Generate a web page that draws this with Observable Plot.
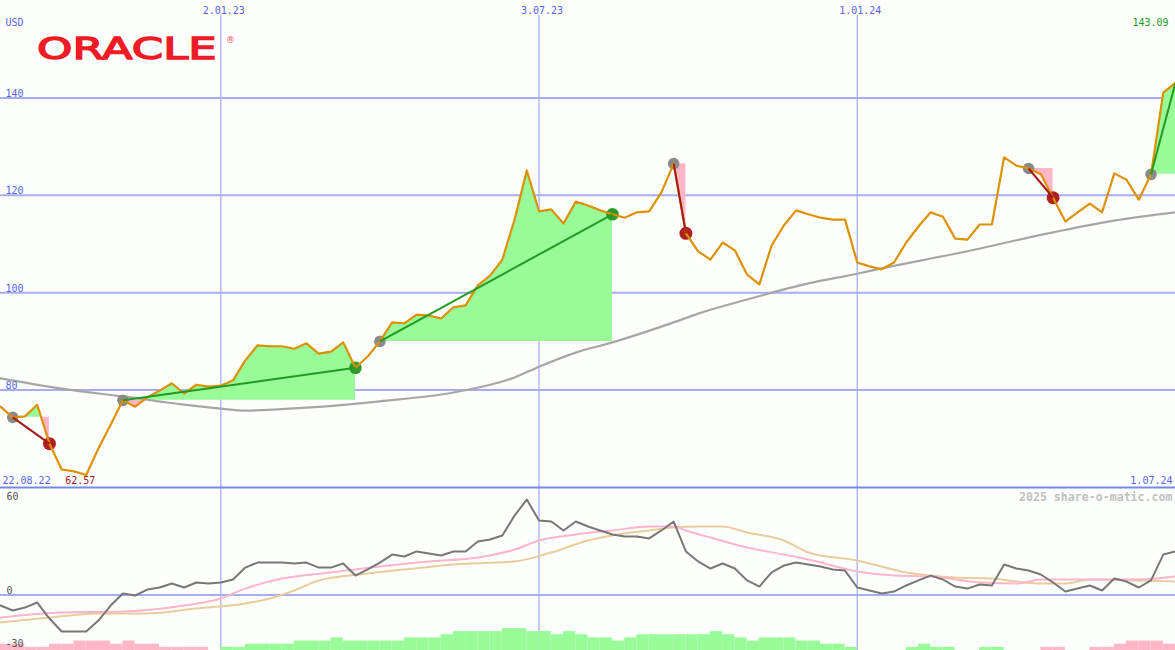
<!DOCTYPE html>
<html><head><meta charset="utf-8">
<script src="https://cdn.jsdelivr.net/npm/d3@7"></script>
<script src="https://cdn.jsdelivr.net/npm/@observablehq/plot@0.6"></script>
<style>
html,body{margin:0;padding:0;background:#fdfffd;}
#chart{position:relative;width:1175px;height:650px;overflow:hidden;background:#fdfffd;}
#chart svg{position:absolute;left:0;}
#logo{position:absolute;left:37px;top:33px;font-family:"DejaVu Sans";font-weight:normal;font-size:31px;line-height:31px;color:#ee1c25;-webkit-text-stroke:1.4px #ee1c25;transform:scaleX(1.45);transform-origin:0 0;white-space:nowrap;}
#reg{position:absolute;left:226px;top:36px;font-family:"DejaVu Sans";font-size:9px;line-height:9px;color:#ee5560;}
</style>
</head><body>
<div id="chart"><div id="logo">ORACLE</div><div id="reg">®</div></div>
<script>
// ---------- data ----------
const startDate = "2022-08-29";
const endDate = "2024-07-01";
const firstDateLabel = "22.08.22";
const currency = "USD";
const priceTicks = [80, 100, 120, 140];
const dateTicks = ["2023-01-02", "2023-07-03", "2024-01-01"];
const momentumTicks = [60, 0];
const momentumBottomTick = -30;

// weekly closes
const price = [
  76.6, 74.4, 74.6, 77.0, 69.0, 63.7, 63.3, 62.57, 68.0, 72.9,
  77.9, 76.6, 78.5, 79.9, 81.4, 79.3, 81.1, 80.7, 80.9, 82.0,
  86.1, 89.2, 89.0, 89.0, 88.5, 89.6, 87.5, 87.9, 89.8, 84.6,
  86.9, 90.0, 93.9, 93.7, 95.5, 95.3, 94.7, 97.0, 97.4, 101.5,
  103.5, 106.8, 115.0, 125.1, 116.7, 117.1, 114.2, 118.7, 117.9, 116.9,
  116.1, 115.4, 116.5, 116.7, 120.6, 126.5, 112.2, 108.5, 106.8, 110.3,
  108.7, 103.7, 101.7, 109.7, 113.8, 116.9, 116.1, 115.4, 115.0, 115.0,
  106.2, 105.4, 104.8, 106.2, 110.3, 113.6, 116.5, 115.6, 111.1, 110.9,
  114.0, 114.0, 127.8, 126.1, 125.5, 124.3, 119.5, 114.6, 116.5, 118.3,
  116.5, 124.5, 123.2, 119.1, 124.3, 141.1, 143.09
];

// long moving average (week index, value)
const maWeeks  = [0, 5, 10, 15, 18, 20, 25, 31, 37, 42, 44, 47, 50, 55, 57, 61, 66, 70, 72, 78, 86, 91, 96];
const maValues = [82.4, 80.3, 78.7, 77.0, 76.2, 75.8, 76.4, 77.7, 79.5, 82.6, 84.8, 87.7, 89.8, 93.9, 95.7, 98.6, 101.9, 103.9, 105.0, 108.0, 112.4, 114.8, 116.5];

// momentum indicator
const momentum = [
  -6.7, -9.9, -8.0, -4.8, -15.0, -23.3, -23.3, -23.3, -16.3, -6.7,
  1.0, -0.3, 3.5, 4.8, 7.3, 4.8, 8.0, 7.3, 8.0, 9.9,
  17.5, 20.7, 20.7, 20.7, 20.1, 20.7, 17.5, 17.5, 20.1, 12.4,
  16.3, 20.7, 25.8, 24.6, 27.8, 26.5, 25.2, 27.8, 27.8, 34.1,
  35.4, 38.0, 50.7, 60.9, 47.5, 46.9, 41.2, 46.9, 43.7, 41.2,
  38.6, 37.3, 37.3, 36.1, 41.2, 46.9, 27.8, 21.4, 16.9, 20.1,
  16.9, 9.3, 5.4, 14.4, 18.8, 20.7, 19.5, 18.2, 16.3, 15.6,
  4.8, 2.9, 1.0, 2.2, 6.1, 9.3, 12.4, 9.9, 5.4, 4.1,
  6.7, 6.1, 19.5, 16.9, 15.6, 13.1, 8.0, 2.2, 4.1, 6.1,
  2.9, 10.5, 8.6, 4.8, 9.3, 25.8, 27.8
];

// fast signal (pink)
const fastWeeks  = [0, 5, 10, 15, 18, 20, 23, 27, 31, 35, 39, 42, 44, 47, 50, 53, 55, 56, 58, 61, 64, 66, 70, 73, 76, 80, 83, 85, 89, 93, 96];
const fastValues = [-14.4, -11.2, -10.5, -6.7, -2.2, 4.1, 10.5, 14.4, 18.2, 21.4, 23.9, 29.0, 34.8, 38.6, 41.2, 43.7, 43.7, 41.2, 36.7, 30.3, 25.8, 22.7, 15.0, 12.4, 11.8, 8.0, 7.3, 9.9, 9.9, 9.9, 11.8];

// slow signal (tan)
const slowWeeks  = [0, 4, 8, 12, 16, 20, 22, 24, 26, 30, 33, 37, 42, 45, 48, 50, 53, 55, 57, 59, 61, 64, 66, 70, 74, 78, 81, 83, 85, 87, 89, 93, 96];
const slowValues = [-17.5, -14.4, -11.8, -11.8, -8.6, -5.4, -2.2, 2.9, 9.3, 13.7, 16.3, 19.5, 21.4, 27.1, 34.8, 38.0, 41.2, 43.1, 43.7, 43.7, 39.9, 34.8, 27.1, 22.0, 14.4, 11.2, 10.5, 8.6, 7.3, 7.3, 9.9, 9.3, 8.6];

// histogram (signed, one per week)
const histValues = [
  -2, -2, -1, -1, -2, -2, -3, -3, -3, -2,
  -3, -2, -2, -1, -1, -1, -1, 0, 1, 1,
  2, 2, 2, 2, 3, 3, 3, 4, 3, 3,
  3, 3, 3, 4, 4, 4, 5, 6, 6, 6,
  6, 7, 7, 6, 6, 5, 6, 5, 4, 4,
  3, 4, 5, 5, 5, 5, 5, 5, 6, 5,
  4, 3, 4, 4, 4, 3, 3, 2, 2, 1,
  0, 0, 0, 0, 1, 2, 1, 1, 0, 0,
  1, 1, 0, 0, 0, -1, -1, 0, 0, -1,
  -1, -2, -3, -3, -3, -2
];

// trades (week indices)
const tradeEntries = [1, 10, 31, 55, 84, 94];
const tradeExits   = [4, 29, 50, 56, 86, 96];
const tradeOpen    = [false, false, false, false, false, true];

// ---------- build ----------
const week = i => d3.utcDay.offset(new Date(startDate), 7 * i);
const fmt = d3.utcFormat("%-d.%m.%y");
const blue = "#5563ee";
const grid = "#a5aef2";
const W = 1175;

const pts = price.map((v, i) => ({date: week(i), value: v}));
const maRows = maWeeks.map((w, k) => ({date: week(w), value: maValues[k]}));
const momRows = momentum.map((v, i) => ({date: week(i), value: v}));
const fastRows = fastWeeks.map((w, k) => ({date: week(w), value: fastValues[k]}));
const slowRows = slowWeeks.map((w, k) => ({date: week(w), value: slowValues[k]}));
const histRows = histValues.map((v, i) => ({d1: week(i), d2: week(i + 1), v}));

const trades = tradeEntries.map((e, k) => ({
  k, d1: week(e), v1: price[e], d2: week(tradeExits[k]), v2: price[tradeExits[k]], open: tradeOpen[k]
}));

// fill rows between price and entry level (with crossing points)
const fillRows = [];
trades.forEach(t => {
  const e = tradeEntries[t.k], x = tradeExits[t.k], base = t.v1;
  for (let i = e; i <= x; i++) {
    fillRows.push({trade: t.k, date: week(i), value: price[i], base});
    if (i < x) {
      const a = price[i] - base, b = price[i + 1] - base;
      if (a * b < 0) {
        const f = a / (a - b);
        const da = +week(i), db = +week(i + 1);
        fillRows.push({trade: t.k, date: new Date(da + f * (db - da)), value: base, base});
      }
    }
  }
});

const minIdx = d3.minIndex(price);
const minRow = pts[minIdx];
const xScale = {type: "utc", domain: [week(0), new Date(endDate)], axis: null};
const style = {fontFamily: "DejaVu Sans Mono", fontSize: "10px", background: "transparent", overflow: "visible"};

const main = Plot.plot({
  width: W, height: 487, margin: 0, style,
  x: xScale,
  y: {domain: [60, 160], axis: null},
  marks: [
    Plot.ruleY(priceTicks, {stroke: grid, strokeWidth: 2}),
    Plot.ruleX(dateTicks, {x: d => new Date(d), stroke: grid, strokeWidth: 1.3, insetTop: 15}),
    Plot.areaY(fillRows, {x: "date", y1: "base", y2: d => Math.max(d.value, d.base), z: "trade", fill: "#98fb98", curve: "linear"}),
    Plot.areaY(fillRows, {x: "date", y1: "base", y2: d => Math.min(d.value, d.base), z: "trade", fill: "#ffb6c6", curve: "linear"}),
    Plot.line(maRows, {x: "date", y: "value", stroke: "#a6a6a6", strokeWidth: 2.2, curve: "monotone-x"}),
    Plot.dot(trades, {x: "d1", y: "v1", r: 5.8, fill: "#8a8a8a"}),
    Plot.dot(trades.filter(t => !t.open && t.v2 < t.v1), {x: "d2", y: "v2", r: 6.5, fill: "#b0201e"}),
    Plot.dot(trades.filter(t => !t.open && t.v2 >= t.v1), {x: "d2", y: "v2", r: 6.3, fill: "#2c9a2c"}),
    Plot.line(pts, {x: "date", y: "value", stroke: "#dc9100", strokeWidth: 2.2}),
    Plot.link(trades.filter(t => t.v2 >= t.v1), {x1: "d1", y1: "v1", x2: "d2", y2: "v2", stroke: "#229a22", strokeWidth: 2}),
    Plot.link(trades.filter(t => t.v2 < t.v1), {x1: "d1", y1: "v1", x2: "d2", y2: "v2", stroke: "#a01a1a", strokeWidth: 2}),
    Plot.text(priceTicks, {y: d => d, text: d => String(d), frameAnchor: "left", textAnchor: "start", lineAnchor: "bottom", dx: 5, dy: -1, fill: blue}),
    Plot.text(dateTicks, {x: d => new Date(d), text: d => fmt(new Date(d)), frameAnchor: "top", lineAnchor: "bottom", dx: 3, dy: 13, fill: blue}),
    Plot.text([currency], {text: d => d, frameAnchor: "top-left", textAnchor: "start", lineAnchor: "bottom", dx: 5, dy: 25, fill: blue}),
    Plot.text([price[price.length - 1]], {text: d => d.toFixed(2), frameAnchor: "top-right", textAnchor: "end", lineAnchor: "bottom", dx: -7, dy: 25, fill: "#229a22"}),
    Plot.text([firstDateLabel], {text: d => d, frameAnchor: "bottom-left", textAnchor: "start", lineAnchor: "bottom", dx: 2, dy: -4, fill: blue}),
    Plot.text([endDate], {text: d => fmt(new Date(d)), frameAnchor: "bottom-right", textAnchor: "end", lineAnchor: "bottom", dx: -3, dy: -4, fill: blue}),
    Plot.text([minRow], {x: "date", text: d => d.value.toFixed(2), frameAnchor: "bottom", lineAnchor: "bottom", dx: -6, dy: -4, fill: "#a01a1a"})
  ]
});
main.style.top = "0px";

const lowTop = 68.6, lowBottom = -35.4;
const lowY = {domain: [lowBottom, lowTop], range: [164, 1], axis: null};
const lower = Plot.plot({
  width: W, height: 164, margin: 0, style,
  x: xScale,
  y: lowY,
  marks: [
    Plot.ruleX(dateTicks, {x: d => new Date(d), stroke: grid, strokeWidth: 1.3}),
    Plot.ruleY([0], {stroke: grid, strokeWidth: 2}),
    Plot.ruleY([lowTop], {stroke: "#7886f0", strokeWidth: 2}),
    Plot.line(slowRows, {x: "date", y: "value", stroke: "#e8cc9c", strokeWidth: 2, curve: "monotone-x"}),
    Plot.line(fastRows, {x: "date", y: "value", stroke: "#ffb5c9", strokeWidth: 2, curve: "monotone-x"}),
    Plot.line(momRows, {x: "date", y: "value", stroke: "#777777", strokeWidth: 2})
  ]
});
lower.style.top = "486px";

const hist = Plot.plot({
  width: W, height: 30, margin: 0, style,
  x: xScale,
  y: {domain: [0, 30 / 3.15], axis: null},
  marks: [
    Plot.rect(histRows.filter(d => d.v !== 0), {x1: "d1", x2: "d2", y1: 0, y2: d => Math.abs(d.v), fill: d => d.v > 0 ? "#98fb98" : "#ffb6c6"})
  ]
});
hist.style.top = "620px";

const lowerText = Plot.plot({
  width: W, height: 164, margin: 0, style,
  x: xScale,
  y: lowY,
  marks: [
    Plot.text(momentumTicks, {y: d => d, text: d => String(d), frameAnchor: "left", textAnchor: "start", lineAnchor: "bottom", dx: 6, dy: -1, fill: "#555"}),
    Plot.text([momentumBottomTick], {text: d => String(d), frameAnchor: "bottom-left", textAnchor: "start", lineAnchor: "bottom", dx: 5, dy: -4, fill: "#555"}),
    Plot.text(["2025 share-o-matic.com"], {text: d => d, frameAnchor: "top-right", textAnchor: "end", lineAnchor: "bottom", dx: -3, dy: 14, fill: "#c0c0c0", fontWeight: "bold", fontSize: 11.6})
  ]
});
lowerText.style.top = "486px";

const chart = document.getElementById("chart");
chart.prepend(lowerText);
chart.prepend(hist);
chart.prepend(lower);
chart.prepend(main);
</script>
</body></html>
